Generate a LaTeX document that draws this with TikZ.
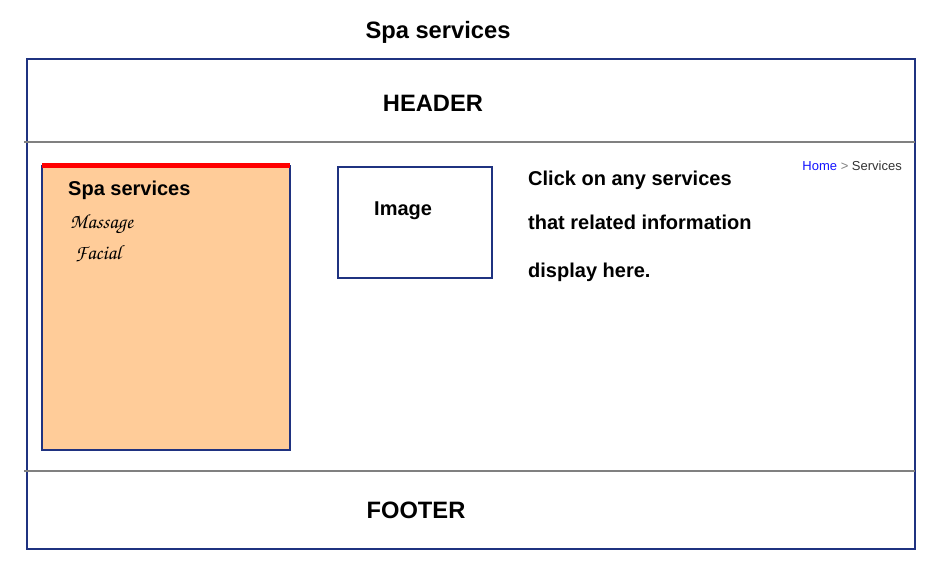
\documentclass[tikz,border=0pt]{standalone}
\usepackage[T1,TU]{fontenc}
\usepackage{fontspec}
\setmainfont{Liberation Sans}
\newcommand{\chancery}{\fontencoding{T1}\fontfamily{pzc}\fontseries{mb}\fontshape{it}\selectfont}
\definecolor{framenavy}{RGB}{31,50,128}
\definecolor{rulegray}{RGB}{128,128,128}
\definecolor{panelpeach}{RGB}{255,204,153}
\definecolor{linkblue}{RGB}{20,20,255}
\definecolor{crumbgray}{RGB}{51,51,51}
\begin{document}
\begin{tikzpicture}[x=1pt,y=-1pt,
  frame/.style={draw=framenavy,line width=1.8pt},
  divider/.style={draw=rulegray,line width=1.5pt},
  lbl/.style={inner sep=0pt,anchor=base west,font=\bfseries},
  big/.style={font=\fontsize{23.7}{26}\bfseries\selectfont},
  mid/.style={font=\fontsize{20}{24}\bfseries\selectfont},
  script/.style={inner sep=0pt,anchor=base west,font=\fontsize{20.5}{24}\chancery}]
\useasboundingbox (0,0) rectangle (942,563);
\fill[white] (0,0) rectangle (942,563);

% page frame and section dividers
\draw[frame] (27,59) rectangle (915,549);
\draw[divider] (24,142) -- (915,142);
\draw[divider] (24,471) -- (915,471);

% side menu panel
\draw[frame,fill=panelpeach] (42,166) rectangle (290,450);
\draw[draw=red,line width=5pt] (42,165.3) -- (290,165.3);

% image placeholder
\draw[frame] (338,167) rectangle (492,278);

% texts
\node[lbl,big,anchor=base] (title) at (438,38) {Spa services};
\node[lbl,big,anchor=base] (header) at (433,111.5) {HEADER};
\node[lbl,big,anchor=base] (footer) at (416,518.5) {FOOTER};

\node[lbl,mid] (menutitle) at (68,195) {Spa services};
\node[script] (massage) at (70,228) {Massage};
\node[script] (facial) at (75,259) {Facial};

\node[lbl,mid] (image) at (374,215) {Image};

\node[lbl,mid] (info1) at (528,185) {Click on any services};
\node[lbl,mid] (info2) at (528,229) {that related information};
\node[lbl,mid] (info3) at (528,277) {display here.};

\node[inner sep=0pt,anchor=base east,font=\fontsize{13}{15}\selectfont] (crumb) at (902,170)
  {\textcolor{linkblue}{Home} \textcolor{rulegray}{>} \textcolor{crumbgray}{Services}};
\end{tikzpicture}
\end{document}
